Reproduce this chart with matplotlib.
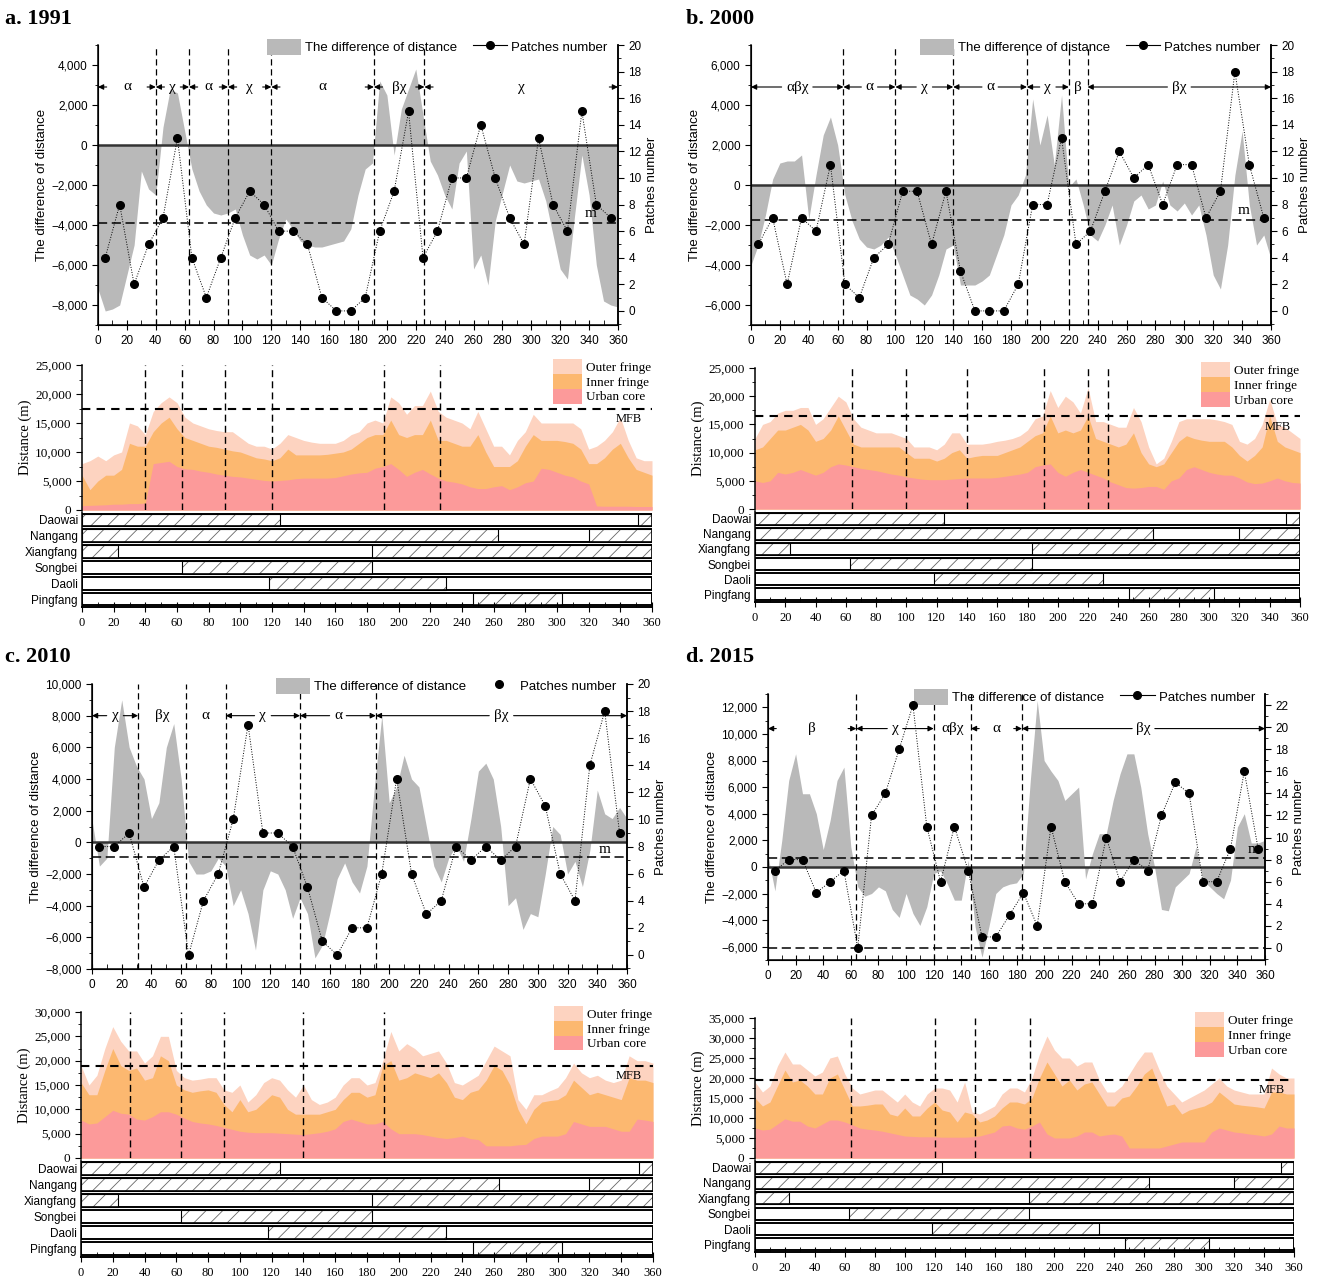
import matplotlib
matplotlib.use('Agg')
import matplotlib.pyplot as plt
from matplotlib.patches import Patch, Rectangle
from matplotlib.lines import Line2D
from matplotlib.ticker import MultipleLocator, StrMethodFormatter, NullLocator

plt.rcParams['font.family'] = ['Liberation Sans', 'DejaVu Sans']
plt.rcParams['hatch.linewidth'] = 0.6
SERIF = ['Liberation Serif', 'DejaVu Serif']

GREY = '#b9b9b9'
OUTER = '#fdd3c0'
INNER = '#fcb870'
CORE = '#fc9a9a'

# sample angles (degrees) and patch sample angles
angles = list(range(0, 361, 5))
patch_angles = list(range(5, 360, 10))

districts = ['Daowai', 'Nangang', 'Xiangfang', 'Songbei', 'Daoli', 'Pingfang']
district_spans = [[(0, 125), (351, 360)], [(0, 263), (320, 360)], [(0, 23), (183, 360)],
                  [(63, 183)], [(118, 230)], [(247, 303)]]

# ---- a. 1991
a_diff = [-7200, -8300, -8200, -8000, -6500, -5000, -1300, -2200, -2500, 900,
          2800, 2600, 700, -1200, -2300, -3000, -3400, -3500, -3400, -3200,
          -4500, -5500, -5700, -5500, -6000, -4700, -3700, -4200, -4800, -5000,
          -5100, -5100, -5000, -4900, -4800, -4200, -2500, -1200, -900, 3200,
          2500, -500, 1800, 2800, 3800, 1500, -800, -1500, -2500, -3200,
          -900, -300, -6200, -5500, -7000, -3800, -2400, -1000, -1800, -1900,
          -1800, -1700, -2800, -4500, -6200, -6700, -3500, -500, -2500, -6000,
          -7800, -8000, -8100]
a_patches = [4, 8, 2, 5, 7, 13, 4, 1, 4, 7, 9, 8, 6, 6, 5, 1, 0, 0, 1, 6,
             9, 15, 4, 6, 10, 10, 14, 10, 7, 5, 13, 8, 6, 15, 8, 7]
a_core = [750, 800, 850, 900, 1000, 1000, 1100, 1100, 1200, 8000,
          8200, 8400, 7500, 7100, 7000, 6700, 6500, 6200, 6000, 5800,
          5700, 5500, 5300, 5100, 5000, 5100, 5200, 5400, 5500, 5500,
          5500, 5500, 5600, 5900, 6200, 6400, 6500, 7200, 7500, 8000,
          7000, 5800, 6500, 7000, 6200, 5500, 5000, 4800, 4500, 4000,
          3700, 3700, 4000, 4200, 3500, 4000, 4700, 5000, 7200, 7000,
          6500, 6000, 5700, 5000, 4500, 700, 650, 650, 650, 650,
          600, 600, 600]
a_inner = [6000, 3500, 5000, 6000, 6000, 7000, 11500, 11000, 11000, 13500,
           15000, 16000, 14000, 12500, 12000, 11500, 11000, 10800, 10500, 10200,
           10000, 9500, 9000, 8800, 8500, 9000, 10500, 9500, 9500, 9500,
           9500, 9600, 9800, 10000, 10500, 11500, 12500, 13000, 13000, 15500,
           13000, 12500, 13000, 13000, 15500, 12000, 12000, 11500, 11000, 11000,
           13000, 10000, 7500, 7500, 7500, 8500, 11000, 13000, 12000, 12000,
           12000, 11800, 11500, 10500, 8000, 8000, 9000, 10500, 11500, 9000,
           7000, 6500, 6000]
a_outer = [8000, 8500, 9300, 8500, 9500, 10000, 15000, 14500, 13000, 17000,
           18500, 19500, 18500, 16000, 15000, 14500, 14000, 13700, 13500, 13500,
           12500, 11500, 11000, 11000, 10500, 11500, 13000, 12500, 12000, 11700,
           11500, 11500, 11500, 12000, 13000, 13500, 15000, 15500, 15000, 19500,
           18500, 16500, 18000, 18000, 20500, 17000, 16000, 15500, 15000, 14000,
           17000, 14000, 11000, 11000, 9500, 12000, 13500, 16500, 15000, 15000,
           15000, 15000, 15000, 14000, 10500, 11000, 12000, 13500, 16000, 12000,
           9000, 8500, 8500]

# ---- b. 2000
b_diff = [-4000, -3000, -1500, 300, 1100, 1200, 1200, 1500, -1700, 500,
          2500, 3400, 2000, -500, -1800, -2700, -3100, -3200, -3000, -2600,
          -3500, -4500, -5500, -5700, -6000, -5500, -4500, -3200, -3000, -5000,
          -5000, -5000, -4800, -4500, -3500, -2500, -1000, -500, 500, 4300,
          2000, 3500, 1000, 4500, -100, 300, -1000, -2500, -2800, -2000,
          -1000, -3000, -2000, -800, -500, -1200, -1000, 200, -1000, -1300,
          -900, -1500, -1000, -2500, -4500, -5200, -3000, 500, 2700, -1000,
          -3000, -2500, -3700]
b_patches = [5, 7, 2, 7, 6, 11, 2, 1, 4, 5, 9, 9, 5, 9, 3, 0, 0, 0, 2, 8,
             8, 13, 5, 6, 9, 12, 10, 11, 8, 11, 11, 7, 9, 18, 11, 7]
b_core = [5000, 4700, 5000, 6500, 6200, 6500, 7000, 6500, 6000, 6500,
          7500, 8000, 7800, 7500, 7200, 7000, 6800, 6500, 6200, 6000,
          5700, 5500, 5300, 5200, 5200, 5200, 5300, 5400, 5500, 5500,
          5500, 5500, 5600, 5800, 6000, 6200, 6500, 7500, 7800, 8000,
          6500, 5800, 6500, 7000, 6500, 6000, 5500, 4800, 4300, 3800,
          3700, 3800, 4000, 4000, 3500, 5000, 5500, 7000, 7500, 7000,
          6500, 6200, 6000, 6000, 5500, 4800, 4500, 4600, 5000, 5500,
          5000, 4700, 4600]
b_inner = [10500, 11000, 12500, 14000, 14000, 14500, 15000, 14000, 12000, 12500,
           14000, 16500, 14000, 11500, 11000, 11000, 11000, 11000, 11000, 11000,
           10000, 9000, 9000, 9000, 8500, 9000, 10000, 10500, 9000, 9300,
           9500, 9500, 9500, 10000, 10500, 11000, 12000, 13000, 13500, 16500,
           13500, 14000, 13500, 14000, 16500, 12500, 12000, 11500, 11000, 11500,
           13500, 10000, 8000, 7500, 8000, 10000, 12000, 13000, 12500, 12200,
           12000, 12000, 12000, 11000, 9500, 8500, 9500, 11000, 16500, 12000,
           11000, 10500, 10000]
b_outer = [12500, 15000, 15500, 17000, 17500, 17500, 18000, 18000, 15000, 16000,
           18000, 20000, 19000, 16000, 14500, 14000, 13500, 13500, 13500, 13000,
           12500, 11000, 11000, 11000, 10500, 11500, 13500, 13500, 11500, 11500,
           11500, 11700, 12000, 12200, 12500, 13000, 14000, 16000, 16500, 21000,
           18000, 20000, 19000, 17000, 21500, 15500, 15500, 15000, 14500, 14500,
           18000, 15500, 11000, 8000, 9000, 12000, 15500, 16000, 16000, 16000,
           16000, 15800, 15500, 15000, 12000, 11500, 12500, 15000, 19500, 15000,
           14500, 13500, 12500]

# ---- c. 2010
c_diff = [1400, -1500, -1000, 6000, 9000, 6000, 4800, 4000, 1500, 2500,
          6000, 7500, 4000, -1200, -2000, -2000, -1800, -1000, -1500, -4000,
          -3000, -4500, -6800, -3000, -1800, -2000, -3000, -4800, -3500, -4500,
          -7300, -6500, -4500, -2300, -1300, -2500, -3200, -1500, 3500, 8000,
          2500, 3500, 5500, 4000, 3500, 1000, -1500, -2500, -1000, -200,
          -1200, 1500, 4500, 5000, 4000, 1000, -4000, -3500, -5500, -4500,
          -4700, -2000, 1000, 500, -2000, -1200, -2800, -500, 3300, 1800,
          1500, 2200, 1500]
c_patches = [8, 8, 9, 5, 7, 8, 0, 4, 6, 10, 17, 9, 9, 8, 5, 1, 0, 2, 2, 6,
             13, 6, 3, 4, 8, 7, 8, 7, 8, 13, 11, 6, 4, 14, 18, 9]
c_core = [7800, 7000, 7200, 8500, 9800, 9200, 9000, 8000, 7800, 8500,
          9500, 9500, 9000, 8200, 7500, 7200, 7000, 6700, 6300, 5900,
          5500, 5300, 5200, 5200, 5200, 5100, 5000, 4900, 4800, 5000,
          5200, 5500, 6000, 7500, 8000, 7500, 7000, 7000, 7500, 6000,
          5000, 5000, 5000, 4800, 4500, 4200, 4000, 4200, 4500, 4000,
          3800, 2500, 2500, 2500, 2500, 2700, 2800, 4000, 4500, 4500,
          4500, 5000, 7500, 7000, 6500, 6500, 6500, 6000, 5500, 5500,
          8000, 7800, 7500]
c_inner = [15500, 13000, 13000, 18000, 22500, 19000, 18000, 18500, 16000, 16500,
           21000, 20000, 15000, 14000, 13500, 13800, 14000, 13500, 11000, 9500,
           12000, 9500, 10000, 11500, 13000, 12500, 10000, 9000, 9000, 9000,
           9000, 9500, 10000, 12000, 13500, 13500, 12500, 13000, 19000, 20000,
           16000, 16500, 17500, 17000, 16500, 17500, 15500, 12500, 12000, 13500,
           14000, 16000, 19000, 18000, 15000, 10000, 7000, 10000, 11500, 11800,
           12000, 13000, 16000, 14500, 13000, 13500, 13000, 12500, 12000, 16500,
           16000, 16000, 15500]
c_outer = [19000, 15000, 17000, 22500, 27000, 24000, 22000, 22000, 19500, 21000,
           25000, 25000, 18000, 16500, 16000, 16200, 16500, 16500, 14000, 13500,
           15000, 11500, 13000, 15500, 16500, 16000, 14000, 12500, 15000, 12000,
           11000, 11500, 12500, 15000, 16500, 16500, 15000, 15500, 20000, 26000,
           22000, 23500, 22500, 21000, 21500, 22000, 19500, 15500, 15000, 16000,
           17000, 20000, 23000, 22000, 21000, 12000, 10000, 13000, 13000, 13800,
           14500, 16500, 19500, 17500, 16500, 17000, 16000, 15500, 16000, 21000,
           20000, 20000, 19500]

# ---- d. 2015
d_diff = [800, -1800, 2000, 6500, 8500, 5500, 5500, 4000, 1300, 3500,
          6500, 7500, 1500, -1500, -2200, -2000, -1500, -1800, -3200, -3800,
          -2000, -3500, -4400, -3000, -500, -300, -1300, -2500, -2500, 500,
          -4500, -6800, -4500, -2000, -1500, -1300, -1200, -500, 6500, 12500,
          8000, 7200, 6500, 5000, 5500, 6000, -900, 1000, 2500, 2500,
          5000, 7000, 8500, 8500, 6000, 2500, 0, -3200, -3300, -1500,
          -1000, -500, 1500, -1000, -1500, -2000, -2400, -1000, 3000, 4000,
          1800, 1800, 2000]
d_patches = [7, 8, 8, 5, 6, 7, 0, 12, 14, 18, 22, 11, 6, 11, 7, 1, 1, 3, 5, 2,
             11, 6, 4, 4, 10, 6, 8, 7, 12, 15, 14, 6, 6, 9, 16, 9]
d_core = [7500, 7000, 7200, 8500, 9800, 9200, 9200, 8000, 7500, 8500,
          9500, 9500, 9000, 8300, 7500, 7200, 7000, 6700, 6300, 5900,
          5500, 5400, 5300, 5300, 5300, 5200, 5200, 5200, 5200, 5300,
          5500, 6000, 6500, 8000, 8200, 7500, 7200, 8000, 9000, 6000,
          5000, 5000, 5000, 5500, 6500, 6500, 5500, 5800, 6000, 5500,
          2500, 2500, 2500, 2500, 2500, 3000, 3500, 4000, 4000, 4000,
          4000, 6500, 7500, 7000, 6500, 6300, 6000, 5800, 5500, 6000,
          8000, 7500, 7500]
d_inner = [15000, 13000, 14000, 18000, 22000, 19000, 19500, 18000, 16000, 16000,
           20000, 21000, 17000, 13000, 13000, 13200, 13500, 13500, 11000, 10500,
           12500, 10500, 10500, 12500, 14000, 12000, 11500, 9000, 11500, 11000,
           9000, 9500, 10500, 12500, 14000, 14000, 13500, 15000, 20000, 24000,
           21000, 18000, 19500, 17000, 18500, 19000, 16000, 13000, 13000, 15000,
           15500, 18000, 21000, 22500, 17500, 13000, 13500, 11000, 12000, 12500,
           13000, 14000, 16500, 15000, 13500, 13200, 13000, 12800, 12500, 16500,
           16500, 16000, 16000]
d_outer = [19000, 16500, 18000, 23000, 26500, 23500, 23500, 22000, 20500, 21500,
           25000, 25500, 21000, 17500, 16000, 16500, 17000, 17000, 15500, 14000,
           16000, 14000, 13000, 16000, 17500, 17500, 17000, 14000, 19000, 11500,
           11000, 12000, 13000, 16000, 17500, 17500, 16500, 20000, 26000, 30500,
           27000, 25000, 25000, 23000, 24000, 24000, 19500, 16500, 16500, 18000,
           21000, 24000, 26500, 26500, 22000, 18000, 16000, 14000, 15000, 16000,
           17000, 18500, 20000, 18000, 17000, 16500, 16000, 16000, 16000, 22500,
           21000, 20000, 20000]

# boundaries, zone labels, thresholds
a_cuts = [40, 63, 90, 120, 191, 226]
b_cuts = [64, 100, 140, 191, 220, 233]
c_cuts = [31, 63, 90, 140, 191]
d_cuts = [64, 120, 147, 184]
a_segs = [(0, 40, 'α', 'stub'), (40, 63, 'χ', 'stub'), (63, 90, 'α', 'stub'), (90, 120, 'χ', 'stub'),
          (120, 191, 'α', 'stub'), (191, 226, 'βχ', 'stub'), (226, 360, 'χ', 'stub')]
b_segs = [(0, 64, 'αβχ', 'full'), (64, 100, 'α', 'full'), (100, 140, 'χ', 'full'), (140, 191, 'α', 'full'),
          (191, 220, 'χ', 'full'), (220, 233, 'β', 'none'), (233, 360, 'βχ', 'full')]
c_segs = [(0, 31, 'χ', 'full'), (31, 63, 'βχ', 'none'), (63, 90, 'α', 'none'), (90, 140, 'χ', 'full'),
          (140, 191, 'α', 'full'), (191, 360, 'βχ', 'full')]
d_segs = [(0, 64, 'β', 'stub'), (64, 120, 'χ', 'full'), (120, 147, 'αβχ', 'none'), (147, 184, 'α', 'stub'),
          (184, 360, 'βχ', 'full')]
m_values = {'a': -3900, 'b': -1750, 'c': -950, 'd': 700}
mfb_values = {'a': 17500, 'b': 16500, 'c': 19000, 'd': 19600}

fig = plt.figure(figsize=(13.21, 12.80), dpi=100)


def px_axes(box):
    x0, y0, x1, y1 = box
    return fig.add_axes([x0 / 1321, 1 - y1 / 1280, (x1 - x0) / 1321, (y1 - y0) / 1280])


def arrow(ax, x_from, x_to, y):
    ax.annotate('', xy=(x_to, y), xytext=(x_from, y),
                arrowprops=dict(arrowstyle='-|>', color='k', lw=0.8, mutation_scale=8,
                                shrinkA=0, shrinkB=0), zorder=5)


def draw_top(ax, diff, patches, m_val, cuts, segs, seg_y, ylim, rlim, m_xy,
             extra_h=None, marker_only=False):
    ax.fill_between(angles, diff, 0, color=GREY, lw=0, zorder=1)
    ax.axhline(0, color='#333333', lw=1.8, zorder=2)
    ax.axhline(m_val, color='k', lw=1.1, ls=(0, (6, 3)), zorder=2)
    if extra_h is not None:
        ax.axhline(extra_h, color='k', lw=1.1, ls=(0, (6, 3)), zorder=2)
    for c in cuts:
        ax.axvline(c, color='k', lw=0.9, ls=(0, (5, 3)), zorder=2)
    ax.set_xlim(0, 360)
    ax.set_ylim(*ylim)
    ax.xaxis.set_major_locator(MultipleLocator(20))
    ax.xaxis.set_minor_locator(MultipleLocator(10))
    ax.yaxis.set_major_locator(MultipleLocator(2000))
    ax.yaxis.set_minor_locator(MultipleLocator(1000))
    ax.yaxis.set_major_formatter(StrMethodFormatter('{x:,.0f}'))
    ax.tick_params(axis='x', which='major', direction='inout', length=7, labelsize=8.5)
    ax.tick_params(axis='x', which='minor', direction='in', length=3.5)
    ax.tick_params(axis='y', which='major', direction='out', length=4, labelsize=8.5)
    ax.tick_params(axis='y', which='minor', direction='out', length=2)
    ax.spines['top'].set_visible(False)
    for s in ['left', 'bottom', 'right']:
        ax.spines[s].set_linewidth(1.1)
    ax.set_ylabel('The difference of distance', fontsize=9.5, labelpad=2)
    ax.text(m_xy[0], m_xy[1], 'm', family=SERIF, fontsize=11, ha='center', va='bottom', zorder=5)
    for s, e, lab, style in segs:
        mid = (s + e) / 2
        ax.text(mid, seg_y, lab, family=SERIF, fontsize=11, ha='center', va='center', zorder=5)
        half = 2.6 * len(lab) + 3
        if style == 'full':
            arrow(ax, mid - half, s, seg_y)
            arrow(ax, mid + half, e, seg_y)
        elif style == 'stub':
            arrow(ax, s + 6, s, seg_y)
            arrow(ax, e - 6, e, seg_y)

    ax2 = ax.twinx()
    ax2.plot(patch_angles, patches, color='k', lw=0.7, ls=':', marker='o', ms=5.5, zorder=6)
    ax2.set_ylim(*rlim)
    ax2.yaxis.set_major_locator(MultipleLocator(2))
    ax2.yaxis.set_minor_locator(MultipleLocator(1))
    ax2.tick_params(axis='y', which='major', direction='out', length=4, labelsize=8.5)
    ax2.tick_params(axis='y', which='minor', direction='out', length=2)
    ax2.spines['top'].set_visible(False)
    ax2.spines['right'].set_linewidth(1.1)
    ax2.set_ylabel('Patches number', fontsize=9.5, labelpad=3)
    if marker_only:
        h2 = Line2D([], [], color='k', ls='none', marker='o', ms=5.5)
    else:
        h2 = Line2D([], [], color='k', lw=0.8, marker='o', ms=5.5)
    ax2.legend([Patch(fc=GREY, ec='none'), h2], ['The difference of distance', 'Patches number'],
               loc='upper right', bbox_to_anchor=(0.99, 1.04), ncol=2, frameon=False, fontsize=9.5,
               handlelength=2.6, handleheight=1.5, columnspacing=1.2, handletextpad=0.3,
               borderaxespad=0)


def draw_mid(ax, core, inner, outer, mfb, cuts, ymax):
    ax.fill_between(angles, 0, outer, color=OUTER, lw=0)
    ax.fill_between(angles, 0, inner, color=INNER, lw=0)
    ax.fill_between(angles, 0, core, color=CORE, lw=0)
    ax.axhline(mfb, color='k', lw=1.5, ls=(0, (4, 3)))
    for c in cuts:
        ax.axvline(c, color='k', lw=1.0, ls=(0, (5, 3)))
    ax.text(345, mfb - ymax * 0.075, 'MFB', family=SERIF, fontsize=9, ha='center', va='center')
    ax.set_xlim(0, 360)
    ax.set_ylim(0, ymax)
    ax.xaxis.set_major_locator(NullLocator())
    ax.yaxis.set_major_locator(MultipleLocator(5000))
    ax.yaxis.set_minor_locator(MultipleLocator(2500))
    ax.yaxis.set_major_formatter(StrMethodFormatter('{x:,.0f}'))
    ax.tick_params(axis='y', which='major', direction='out', length=4, labelsize=9.5)
    ax.tick_params(axis='y', which='minor', direction='out', length=2)
    for t in ax.get_yticklabels():
        t.set_family(SERIF)
    for s in ['top', 'right', 'bottom']:
        ax.spines[s].set_visible(False)
    ax.spines['left'].set_linewidth(1.1)
    ax.set_ylabel('Distance (m)', family=SERIF, fontsize=10.5, labelpad=2)
    ax.legend([Patch(fc=OUTER, ec='none'), Patch(fc=INNER, ec='none'), Patch(fc=CORE, ec='none')],
              ['Outer fringe', 'Inner fringe', 'Urban core'], loc='upper right',
              bbox_to_anchor=(1.0, 1.05), frameon=False, prop={'family': SERIF, 'size': 9.5},
              handlelength=2.2, handleheight=1.35, labelspacing=0.0, handletextpad=0.3,
              borderaxespad=0, borderpad=0.1)


def draw_bot(ax):
    for i, spans in enumerate(district_spans):
        ax.add_patch(Rectangle((0, i - 0.4), 360, 0.8, fc='white', ec='k', lw=1.2))
        for s, e in spans:
            ax.add_patch(Rectangle((s, i - 0.4), e - s, 0.8, fc='white', ec='#666666',
                                   lw=0, hatch='//'))
            ax.add_patch(Rectangle((s, i - 0.4), e - s, 0.8, fill=False, ec='k', lw=0.8))
        ax.add_patch(Rectangle((0, i - 0.4), 360, 0.8, fill=False, ec='k', lw=1.2))
    ax.set_xlim(0, 360)
    ax.set_ylim(5.5, -0.5)
    ax.set_yticks(range(len(districts)))
    ax.set_yticklabels(districts, fontsize=8.5)
    ax.yaxis.set_minor_locator(MultipleLocator(1))
    ax.tick_params(axis='y', which='major', length=0, pad=3)
    ax.tick_params(axis='y', which='minor', direction='out', length=3)
    ax.xaxis.set_major_locator(MultipleLocator(20))
    ax.xaxis.set_minor_locator(MultipleLocator(10))
    ax.tick_params(axis='x', which='major', direction='inout', length=7, labelsize=9)
    ax.tick_params(axis='x', which='minor', direction='in', length=3.5)
    for t in ax.get_xticklabels():
        t.set_family(SERIF)
    ax.spines['top'].set_visible(False)
    ax.spines['right'].set_visible(False)
    ax.spines['left'].set_linewidth(1.1)
    ax.spines['bottom'].set_linewidth(1.4)


layout = {
    'a': dict(top=(98, 45, 618, 325), mid=(82, 365, 652, 510), bot=(82, 512, 652, 607), title=(5, 19)),
    'b': dict(top=(751, 45, 1271, 325), mid=(755, 368, 1300, 509), bot=(755, 511, 1300, 602), title=(686, 19)),
    'c': dict(top=(92, 684, 627, 969), mid=(81, 1012, 653, 1158), bot=(81, 1160, 653, 1257), title=(5, 657)),
    'd': dict(top=(768, 694, 1265, 960), mid=(755, 1018, 1294, 1158), bot=(755, 1160, 1294, 1252), title=(686, 657)),
}
titles = {'a': 'a. 1991', 'b': 'b. 2000', 'c': 'c. 2010', 'd': 'd. 2015'}

# a. 1991
ax = px_axes(layout['a']['top'])
draw_top(ax, a_diff, a_patches, m_values['a'], a_cuts, a_segs, 2900, (-9000, 5000), (-1.06, 20),
         (341, -3750))
draw_mid(px_axes(layout['a']['mid']), a_core, a_inner, a_outer, mfb_values['a'], a_cuts, 25000)
draw_bot(px_axes(layout['a']['bot']))

# b. 2000
ax = px_axes(layout['b']['top'])
draw_top(ax, b_diff, b_patches, m_values['b'], b_cuts, b_segs, 4900, (-7000, 7000), (-1.06, 20),
         (341, -1600))
draw_mid(px_axes(layout['b']['mid']), b_core, b_inner, b_outer, mfb_values['b'], b_cuts, 25000)
draw_bot(px_axes(layout['b']['bot']))

# c. 2010
ax = px_axes(layout['c']['top'])
draw_top(ax, c_diff, c_patches, m_values['c'], c_cuts, c_segs, 8000, (-8000, 10000), (-1.04, 20),
         (345, -850), marker_only=True)
draw_mid(px_axes(layout['c']['mid']), c_core, c_inner, c_outer, mfb_values['c'], c_cuts, 30000)
draw_bot(px_axes(layout['c']['bot']))

# d. 2015
ax = px_axes(layout['d']['top'])
draw_top(ax, d_diff, d_patches, m_values['d'], d_cuts, d_segs, 10400, (-7000, 13000), (-1.09, 23),
         (352, 800), extra_h=-6100)
draw_mid(px_axes(layout['d']['mid']), d_core, d_inner, d_outer, mfb_values['d'], d_cuts, 35000)
draw_bot(px_axes(layout['d']['bot']))

for k in 'abcd':
    tx, ty = layout[k]['title']
    fig.text(tx / 1321, 1 - ty / 1280, titles[k], family=SERIF, fontsize=16, fontweight='bold',
             ha='left', va='center')

fig.savefig('out.png', dpi=100)
